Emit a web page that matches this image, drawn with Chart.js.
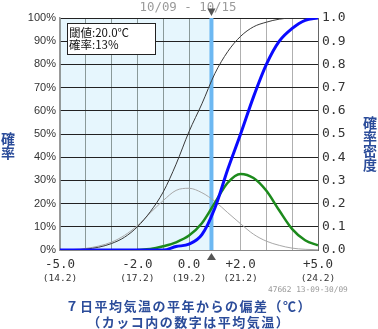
<!DOCTYPE html>
<html><head><meta charset="utf-8">
<script src="https://cdn.jsdelivr.net/npm/chart.js@4.4.1/dist/chart.umd.min.js"></script>
<style>html,body{margin:0;padding:0;background:#fff;overflow:hidden}canvas{display:block}</style>
</head><body>
<canvas id="c" width="378" height="329"></canvas>
<script>
const deviations   = [-5.0,-4.5,-4.0,-3.5,-3.0,-2.5,-2.0,-1.5,-1.0,-0.5,0.0,0.5,1.0,1.5,2.0,2.5,3.0,3.5,4.0,4.5,5.0];
const forecastCdf  = [0,0,0,0,0,0,0,0,0,0.015,0.025,0.066,0.18,0.347,0.5,0.66,0.8,0.9,0.955,0.99,1.0];
const forecastPdf  = [null,null,null,null,null,null,0,0.004,0.016,0.033,0.062,0.115,0.203,0.29,0.328,0.31,0.255,0.17,0.09,0.042,0.02];
const climateCdf   = [null,0,0.004,0.012,0.028,0.055,0.10,0.165,0.25,0.37,0.51,0.63,0.76,0.855,0.921,0.962,0.982,0.995,1.0,1.0,1.0];
const climatePdf   = [null,0.002,0.007,0.017,0.034,0.063,0.105,0.16,0.213,0.257,0.266,0.247,0.21,0.161,0.113,0.068,0.038,0.02,0.008,0.003,0.001];
const xTickValues  = [-5,-2,0,2,5];
const xTickLabels  = ['-5.0','-2.0','0.0','+2.0','+5.0'];
const xTickTemps   = ['(14.2)','(17.2)','(19.2)','(21.2)','(24.2)'];
const thresholdDev = 0.87;
const infoLines    = ['閾値:20.0℃','確率:13%'];
const periodText   = '10/09 - 10/15';
const stationText  = '47662 13-09-30/09';
const leftTitle    = ['確','率'];
const rightTitle   = ['確','率','密','度'];
const bottomTitle  = ['７日平均気温の平年からの偏差（℃）','（カッコ内の数字は平均気温）'];

const FONT_CJK  = '"Noto Sans CJK JP", sans-serif';
const FONT_MONO = '"DejaVu Sans Mono", monospace';
const toPts = arr => deviations.map((x,i)=>({x:x, y:arr[i]}));

const overlay = {
  id:'overlay',
  beforeDraw(chart){
    const {ctx, chartArea:a, scales:{x}} = chart;
    ctx.save();
    ctx.fillStyle='#fff'; ctx.fillRect(0,0,chart.width,chart.height);
    const tx = x.getPixelForValue(thresholdDev);
    ctx.fillStyle='#e6f6fd';
    ctx.fillRect(a.left, a.top, tx - a.left, a.bottom - a.top);
    ctx.restore();
  },
  beforeDatasetsDraw(chart){
    const {ctx, chartArea:a, scales:{x}} = chart;
    const tx = x.getPixelForValue(thresholdDev);
    ctx.save();
    ctx.strokeStyle='#6db8f2'; ctx.lineWidth=4;
    ctx.beginPath(); ctx.moveTo(tx, a.top); ctx.lineTo(tx, a.bottom); ctx.stroke();
    ctx.restore();
  },
  afterDraw(chart){
    const {ctx, chartArea:a, scales:{x}} = chart;
    const tx = x.getPixelForValue(thresholdDev);
    ctx.save();
    ctx.textBaseline='middle';
    ctx.fillStyle='#9a9a9a'; ctx.font='12.4px '+FONT_MONO; ctx.textAlign='center';
    ctx.fillText(periodText, 188, 8);
    ctx.fillStyle='#555';
    ctx.beginPath(); ctx.moveTo(tx-4, 8.5); ctx.lineTo(tx+4, 8.5); ctx.lineTo(tx, 16); ctx.closePath(); ctx.fill();
    ctx.beginPath(); ctx.moveTo(tx-4.5, 260); ctx.lineTo(tx+4.5, 260); ctx.lineTo(tx, 253); ctx.closePath(); ctx.fill();
    ctx.fillStyle='#333'; ctx.font='9.5px '+FONT_MONO;
    xTickValues.forEach((v,i)=>ctx.fillText(xTickTemps[i], x.getPixelForValue(v), 279));
    ctx.fillStyle='#999'; ctx.font='7.8px '+FONT_MONO; ctx.textAlign='left';
    ctx.fillText(stationText, 268, 289.5);
    ctx.fillStyle='#fff'; ctx.fillRect(67,23,88,31);
    ctx.strokeStyle='#222'; ctx.lineWidth=1; ctx.strokeRect(67.5,23.5,88,31);
    ctx.fillStyle='#111'; ctx.font='11.5px '+FONT_CJK;
    ctx.fillText(infoLines[0], 69, 32.5); ctx.fillText(infoLines[1], 69, 45);
    ctx.fillStyle='#2b4c9a'; ctx.font='bold 14px '+FONT_CJK; ctx.textAlign='center';
    leftTitle.forEach((ch,i)=>ctx.fillText(ch, 8, 138.5 + i*14.5));
    rightTitle.forEach((ch,i)=>ctx.fillText(ch, 370, 123 + i*14));
    ctx.font='bold 13px '+FONT_CJK; ctx.letterSpacing='1.5px';
    ctx.fillText(bottomTitle[0], 188.75, 306);
    ctx.fillText(bottomTitle[1], 188.75, 322);
    ctx.restore();
  }
};

new Chart(document.getElementById('c'), {
  type:'line',
  data:{ datasets:[
    {label:'forecastCdf', data:toPts(forecastCdf), borderColor:'#0a0aff', borderWidth:3},
    {label:'forecastPdf', data:toPts(forecastPdf), borderColor:'#1c8a1c', borderWidth:2.5},
    {label:'climateCdf',  data:toPts(climateCdf),  borderColor:'#3a3a3a', borderWidth:1},
    {label:'climatePdf',  data:toPts(climatePdf),  borderColor:'#a8a8a8', borderWidth:1}
  ].map(d=>Object.assign(d,{pointRadius:0, fill:false, cubicInterpolationMode:'monotone', yAxisID:'y'}))},
  options:{
    responsive:false, devicePixelRatio:1, animation:false,
    layout:{padding:{top:18,left:0,right:0,bottom:0}},
    plugins:{legend:{display:false}, tooltip:{enabled:false}},
    scales:{
      x:{ type:'linear', min:-5, max:5,
        afterFit(s){ s.height = 79; },
        ticks:{ stepSize:1, autoSkip:false, maxRotation:0, padding:7, color:'#333',
          font:{family:FONT_MONO, size:12.5},
          callback(v){ const i = xTickValues.indexOf(v); return i>=0 ? xTickLabels[i] : ''; } },
        grid:{ drawTicks:false, lineWidth:1,
          color(c){ const v = c.tick ? c.tick.value : null; if (v===1) return 'rgba(0,0,0,0)'; return v < thresholdDev ? '#8a9999' : '#b0b0b0'; } },
        border:{ display:true, color:'#888', width:1 } },
      y:{ position:'left', min:0, max:1, afterFit(s){ s.width = 60; },
        ticks:{ stepSize:0.1, padding:4, color:'#333', font:{family:'"Liberation Sans", sans-serif', size:11},
          callback:v=>Math.round(v*100)+'%' },
        grid:{ drawTicks:false, color(c){ return c.tick && c.tick.value===0 ? '#888' : '#222'; } },
        border:{ display:true, color:'#999', width:1.5 } },
      y2:{ position:'right', min:0, max:1, afterFit(s){ s.width = 60; },
        ticks:{ stepSize:0.1, padding:4, color:'#333', font:{family:FONT_MONO, size:13},
          callback:v=>v.toFixed(1) },
        grid:{ display:false, drawTicks:false },
        border:{ display:true, color:'#666', width:1 } }
    }
  },
  plugins:[overlay]
});
</script>
</body></html>
